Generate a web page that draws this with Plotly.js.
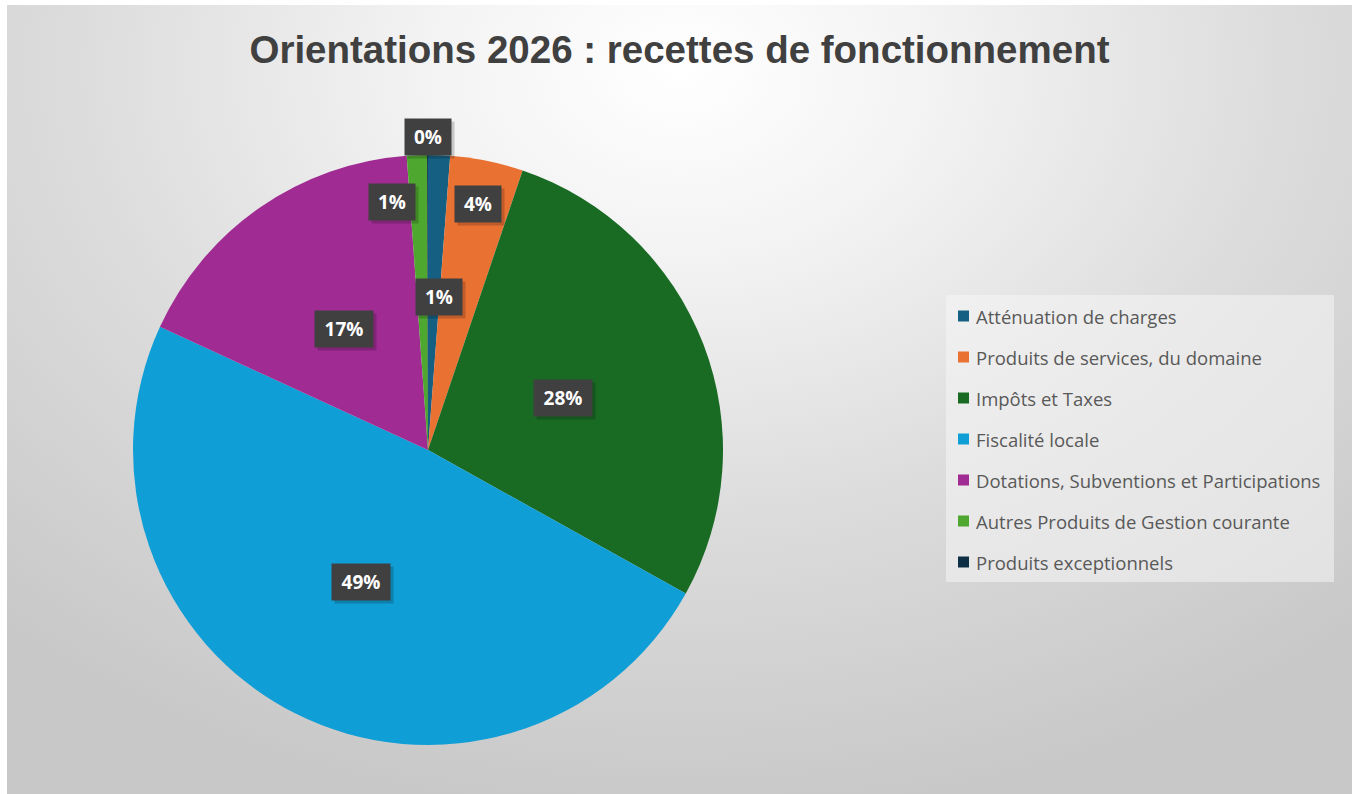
<!DOCTYPE html>
<html>
<head>
<meta charset="utf-8">
<script src="https://cdn.plot.ly/plotly-3.0.1.min.js"></script>
<style>
  html, body { margin: 0; padding: 0; background: #ffffff; }
  #bg {
    position: absolute; left: 7px; top: 5px; width: 1345px; height: 789px;
    background: radial-gradient(ellipse 75% 95% at 50% 8%, #ffffff 0%, #f3f3f3 25%, #dcdcdc 60%, #c8c8c8 100%);
  }
  #chart { position: absolute; left: 0; top: 0; width: 1352px; height: 794px; }
</style>
</head>
<body>
<div id="bg"></div>
<div id="chart"></div>
<script>
// categories and values (share of operating revenue, %)
const categories = [
    'Atténuation de charges',
    'Produits de services, du domaine',
    'Impôts et Taxes',
    'Fiscalité locale',
    'Dotations, Subventions et Participations',
    'Autres Produits de Gestion courante',
    'Produits exceptionnels'
];
const values = [1.2, 4.0, 27.9, 48.8, 17.0, 1.1, 0.05];
const colors = ['#156082', '#E97132', '#196B24', '#0F9ED5', '#A02B93', '#4EA72E', '#0C2F45'];

// where the data labels sit: fraction of radius, small angle nudge (deg)
const labelRadius = [0.52, 0.85, 0.49, 0.5, 0.5, 0.85, 1.06];
const labelNudge = [2, 0, 0, 0, 0, -6, 0];

const W = 1352, H = 794;
const cx = 428, cy = 450, R = 295;

function createPieChart() {
    const container = document.getElementById('chart');

    const trace = {
        type: 'pie',
        labels: categories,
        values: values,
        sort: false,
        direction: 'clockwise',
        rotation: 0,
        marker: { colors: colors, line: { width: 0 } },
        textinfo: 'none',
        hoverinfo: 'label+percent',
        showlegend: false,
        domain: { x: [(cx - R) / W, (cx + R) / W], y: [(H - cy - R) / H, (H - cy + R) / H] }
    };

    const total = values.reduce((a, b) => a + b, 0);
    const annotations = [];
    const shapes = [];

    // data labels in dark boxes (with a soft shadow), placed on each slice's mid angle
    let cum = 0;
    values.forEach((v, i) => {
        const mid = (cum + v / 2) / total * 360 + labelNudge[i];
        cum += v;
        const a = mid * Math.PI / 180;
        const px = cx + labelRadius[i] * R * Math.sin(a);
        const py = cy - labelRadius[i] * R * Math.cos(a);
        const txt = Math.round(v / total * 100) + '%';
        const base = {
            xref: 'paper', yref: 'paper',
            x: px / W, y: 1 - py / H,
            xanchor: 'center', yanchor: 'middle',
            showarrow: false,
            width: txt.length > 2 ? 44 : 32,
            height: 22,
            borderpad: 7
        };
        annotations.push(Object.assign({}, base, {
            text: ' ',
            xshift: 3, yshift: -3,
            font: { family: 'Open Sans, sans-serif', size: 19, color: 'rgba(0,0,0,0)' },
            bgcolor: 'rgba(0,0,0,0.18)'
        }));
        annotations.push(Object.assign({}, base, {
            text: '<b>' + txt + '</b>',
            font: { family: 'Open Sans, sans-serif', size: 19, color: '#ffffff' },
            bgcolor: '#404040'
        }));
    });

    // legend box drawn by hand to get Excel's spacing
    const legX0 = 946, legX1 = 1334, legY0 = 295, legY1 = 582;
    const rowTop = 316, rowStep = 41;
    shapes.push({
        type: 'rect', xref: 'paper', yref: 'paper',
        x0: legX0 / W, x1: legX1 / W, y0: 1 - legY1 / H, y1: 1 - legY0 / H,
        fillcolor: 'rgba(245,245,245,0.55)', line: { width: 0 }, layer: 'below'
    });
    categories.forEach((name, i) => {
        const yc = rowTop + i * rowStep;
        shapes.push({
            type: 'rect', xref: 'paper', yref: 'paper',
            x0: 958 / W, x1: 969 / W, y0: 1 - (yc + 5.5) / H, y1: 1 - (yc - 5.5) / H,
            fillcolor: colors[i], line: { width: 0 }
        });
        annotations.push({
            xref: 'paper', yref: 'paper',
            x: 974 / W, y: 1 - yc / H,
            xanchor: 'left', yanchor: 'middle',
            text: name, showarrow: false,
            font: { family: 'Open Sans, sans-serif', size: 18.5, color: '#595959' }
        });
    });

    const layout = {
        width: W, height: H,
        margin: { l: 0, r: 0, t: 0, b: 0 },
        paper_bgcolor: 'rgba(0,0,0,0)',
        plot_bgcolor: 'rgba(0,0,0,0)',
        title: {
            text: '<b>Orientations 2026 : recettes de fonctionnement</b>',
            x: 679.5 / W, xanchor: 'center', xref: 'paper',
            y: 1 - 50 / H, yanchor: 'middle', yref: 'paper',
            font: { family: 'Liberation Sans, Arial, sans-serif', size: 38.5, color: '#404040' }
        },
        annotations: annotations,
        shapes: shapes,
        showlegend: false
    };

    const config = { responsive: false, displayModeBar: false, staticPlot: true };

    Plotly.newPlot(container, [trace], layout, config);
}

createPieChart();
</script>
</body>
</html>
